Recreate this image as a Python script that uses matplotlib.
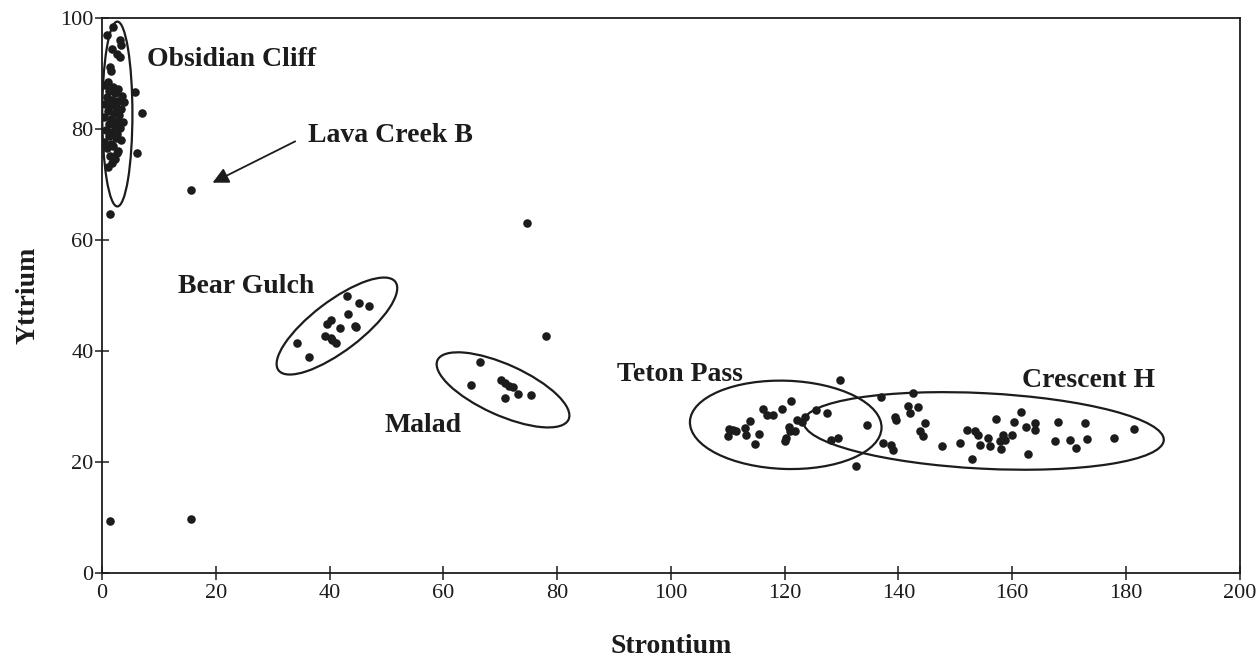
import matplotlib
matplotlib.use("Agg")
import matplotlib.pyplot as plt
from matplotlib.patches import Ellipse

# ---- data ----
obsidian_x = [2.0, 0.8, 3.2, 3.4, 1.7, 2.6, 3.2, 1.4, 1.5, 1.1, 5.8, 7.0, 6.1, 1.7,
              0.6, 1.9, 2.8, 1.2, 2.3, 3.6, 0.9, 1.8, 2.9, 3.9, 0.5, 1.5, 2.5, 3.3,
              1.0, 2.1, 3.0, 0.4, 1.6, 2.7, 3.7, 1.2, 2.2, 3.1, 0.7, 1.8, 2.6, 1.3,
              2.4, 3.4, 0.3, 1.5, 2.0, 0.8, 2.9, 2.6, 1.4, 2.2, 1.1]
obsidian_y = [98.4, 96.9, 96.0, 95.2, 94.5, 93.6, 92.9, 91.2, 90.5, 88.5, 86.7, 82.8, 75.6, 73.8,
              87.9, 87.6, 87.2, 86.8, 86.4, 86.0, 85.7, 85.3, 85.1, 84.8, 84.5, 84.3, 83.9, 83.6,
              83.2, 82.9, 82.5, 82.1, 81.8, 81.5, 81.2, 80.9, 80.6, 80.2, 79.8, 79.5, 79.1, 78.7,
              78.3, 78.0, 77.6, 77.3, 76.9, 76.5, 76.1, 75.6, 75.2, 74.6, 73.2]

bear_x = [43.1, 45.2, 47.0, 43.2, 40.2, 39.6, 41.8, 44.5, 44.6, 39.2, 40.2, 40.5, 41.1, 34.2, 36.4]
bear_y = [49.9, 48.7, 48.1, 46.7, 45.6, 44.9, 44.2, 44.5, 44.3, 42.7, 42.3, 41.9, 41.4, 41.4, 39.0]

malad_x = [66.4, 64.8, 70.2, 70.8, 71.6, 72.2, 73.2, 75.4, 70.8]
malad_y = [38.1, 33.9, 34.8, 34.2, 33.7, 33.5, 32.3, 32.1, 31.5]

teton_x = [110.2, 110.1, 110.9, 111.5, 113.0, 113.3, 113.9, 115.5, 114.8, 116.2, 116.9,
           118.0, 119.6, 121.1, 120.8, 121.8, 122.2, 123.0, 123.6, 120.9, 120.3, 120.0,
           125.6, 127.4, 134.5, 129.4, 128.2]
teton_y = [26.0, 24.6, 25.8, 25.6, 26.1, 24.9, 27.4, 25.0, 23.2, 29.5, 28.5,
           28.5, 29.5, 31.0, 26.4, 25.5, 27.6, 27.3, 28.1, 25.5, 24.3, 23.7,
           29.4, 28.9, 26.7, 24.3, 24.0]

crescent_x = [137.0, 142.6, 141.7, 143.5, 142.0, 139.4, 139.5, 144.6, 143.8, 144.3, 137.3,
              138.7, 139.0, 147.6, 150.8, 152.1, 153.4, 154.0, 153.0, 155.8, 156.1, 157.2,
              154.3, 158.4, 158.7, 158.1, 157.8, 159.9, 160.3, 161.6, 162.5, 164.1, 164.1,
              162.8, 168.1, 167.5, 170.2, 171.3, 172.8, 173.2, 177.9, 181.5]
crescent_y = [31.8, 32.4, 30.1, 29.9, 28.8, 28.2, 27.6, 27.0, 25.5, 24.7, 23.5,
              23.1, 22.2, 22.9, 23.4, 25.8, 25.5, 24.9, 20.5, 24.3, 22.9, 27.7,
              23.1, 24.9, 24.0, 22.3, 23.7, 24.9, 27.2, 29.1, 26.3, 27.1, 25.8,
              21.4, 27.3, 23.8, 24.0, 22.6, 27.0, 24.1, 24.3, 25.9]

other_x = [1.4, 15.6, 15.6, 1.4, 74.7, 78.0, 132.5, 129.7]
other_y = [64.7, 69.0, 9.7, 9.4, 63.1, 42.7, 19.3, 34.8]

group_labels = ["Obsidian Cliff", "Lava Creek B", "Bear Gulch", "Malad", "Teton Pass", "Crescent H"]

# ---- style / layout ----
ink = "#1c1c1c"
serif = ["Liberation Serif", "DejaVu Serif"]
plt.rcParams["font.family"] = serif

fig = plt.figure(figsize=(12.56, 6.62), dpi=100)
ax = fig.add_axes([0.0812, 0.1344, 0.9058, 0.8384])

dot = dict(s=38, color=ink, linewidths=0, zorder=3)
for xs, ys in [(obsidian_x, obsidian_y), (bear_x, bear_y), (malad_x, malad_y),
               (teton_x, teton_y), (crescent_x, crescent_y), (other_x, other_y)]:
    ax.scatter(xs, ys, **dot)

# group ellipses: (center x, center y, width, height, angle)
ellipses = [(2.7, 82.7, 5.3, 33.3, 0),
            (41.3, 44.5, 26.0, 8.9, 38),
            (70.5, 33.0, 25.4, 9.1, -25),
            (120.2, 26.7, 33.7, 15.9, -2),
            (155.0, 25.6, 63.4, 13.6, -3)]
for cx, cy, w, h, a in ellipses:
    ax.add_patch(Ellipse((cx, cy), w, h, angle=a, fill=False, ec=ink, lw=1.6, zorder=2))

label_pos = [(7.9, 92.5), (36.2, 78.8), (13.4, 51.6), (49.6, 26.6), (90.5, 35.8), (161.7, 34.6)]
for txt, (lx, ly) in zip(group_labels, label_pos):
    ax.text(lx, ly, txt, fontsize=20, fontweight="bold", color=ink, ha="left", va="center")

ax.annotate("", xy=(19.0, 70.1), xytext=(34.4, 78.0),
            arrowprops=dict(arrowstyle="-|>", color=ink, lw=1.3, mutation_scale=24))

ax.set_xlim(0, 200)
ax.set_ylim(0, 100)
ax.set_xticks(range(0, 201, 20))
ax.set_yticks(range(0, 101, 20))
ax.tick_params(direction="inout", length=10, width=1.1, colors=ink, labelsize=16)
ax.tick_params(axis="x", pad=3)
ax.tick_params(axis="y", pad=1)
for s in ax.spines.values():
    s.set_linewidth(1.3)
    s.set_color(ink)

ax.set_xlabel("Strontium", fontsize=20, fontweight="bold", color=ink, labelpad=22)
ax.set_ylabel("Yttrium", fontsize=20, fontweight="bold", color=ink, labelpad=14)

fig.savefig("out.png", dpi=100, facecolor="white")
